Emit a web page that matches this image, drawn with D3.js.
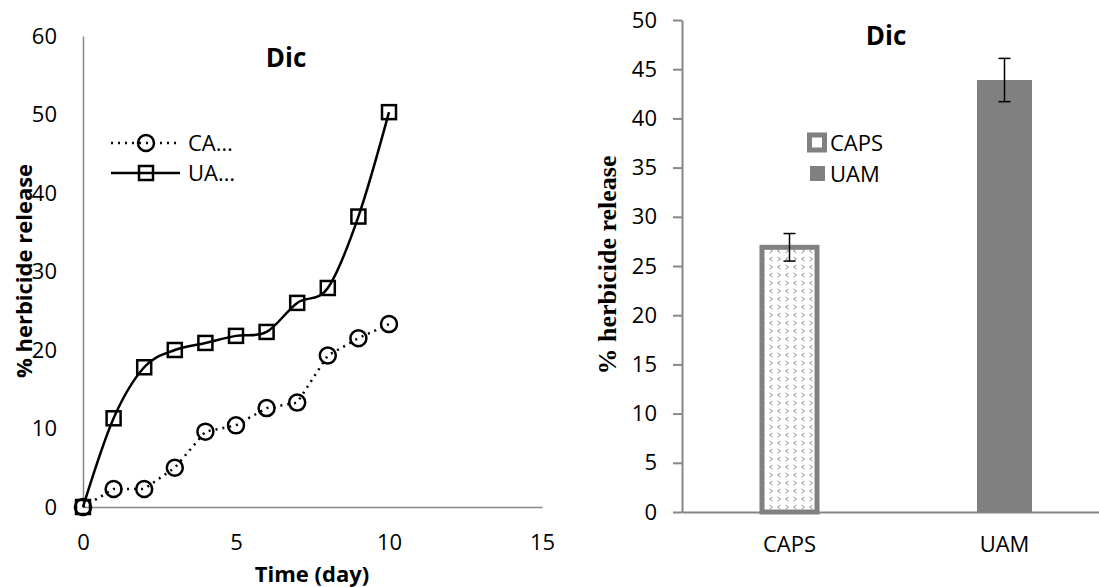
<!DOCTYPE html>
<html lang="en">
	<head>
		<meta charset="utf-8">
		<title>Dic - herbicide release</title>
		<script src="https://d3js.org/d3.v7.min.js"></script>
		<style type="text/css">
body {
    margin: 0;
    background: #fff;
}
text {
    font-family: "Open Sans", "Noto Sans", sans-serif;
    fill: #000;
}
.tick line, .domain {
    stroke: #868686;
}
		</style>
	</head>

	<body>
		<script type="text/javascript">

			// ---- data ----
			var days = [0, 1, 2, 3, 4, 5, 6, 7, 8, 9, 10];
			var capsRelease = [0, 2.3, 2.3, 5.0, 9.6, 10.4, 12.6, 13.3, 19.3, 21.5, 23.3];
			var uamRelease = [0, 11.3, 17.8, 20.0, 20.9, 21.8, 22.3, 26.0, 27.9, 37.0, 50.3];

			var barNames = ["CAPS", "UAM"];
			var barValues = [26.9, 43.9];
			var barErrors = [1.4, 2.2];

			var lineTicksX = [0, 5, 10, 15];
			var lineTicksY = [0, 10, 20, 30, 40, 50, 60];
			var barTicksY = [0, 5, 10, 15, 20, 25, 30, 35, 40, 45, 50];

			//Width and height
			var w = 1099;
			var h = 587;

			var svg = d3.select("body")
						.append("svg")
						.attr("width", w)
						.attr("height", h);

			// pattern for the CAPS bar (small chevrons)
			var pat = svg.append("defs").append("pattern")
				.attr("id", "chev")
				.attr("patternUnits", "userSpaceOnUse")
				.attr("width", 16)
				.attr("height", 16);
			pat.append("rect").attr("width", 16).attr("height", 16).attr("fill", "#fff");
			var chevs = [
				[3, 3, -1], [11, 3, 1], [3, 11, 1], [11, 11, -1]
			];
			pat.selectAll("path")
				.data(chevs)
				.enter().append("path")
				.attr("d", function(d) {
					var dx = 1.5 * d[2];
					return "M" + (d[0] - dx) + "," + (d[1] - 2) + "L" + (d[0] + dx) + "," + d[1] + "L" + (d[0] - dx) + "," + (d[1] + 2);
				})
				.attr("fill", "none")
				.attr("stroke", "#8a8a8a")
				.attr("stroke-width", 0.9);

			// =================== left chart: release over time ===================
			var x1 = d3.scaleLinear().domain([0, 15]).range([83, 542]);
			var y1 = d3.scaleLinear().domain([0, 60]).range([507, 36]);

			var g1 = svg.append("g");

			g1.append("g")
				.attr("transform", "translate(0,507)")
				.call(d3.axisBottom(x1).tickValues(lineTicksX).tickSize(0).tickPadding(27).tickSizeOuter(0))
				.call(function(g) {
					g.selectAll("text").attr("font-size", "22px").style("font-family", null);
					g.select(".domain").attr("stroke-width", 1.5);
				});

			g1.append("g")
				.attr("transform", "translate(83,0)")
				.call(d3.axisLeft(y1).tickValues(lineTicksY).tickSize(0).tickPadding(26).tickSizeOuter(0))
				.call(function(g) {
					g.selectAll("text").attr("font-size", "22px").style("font-family", null);
					g.select(".domain").attr("stroke-width", 1.5);
				});

			var capsPts = days.map(function(d, i) { return [d, capsRelease[i]]; });
			var uamPts = days.map(function(d, i) { return [d, uamRelease[i]]; });

			var straight = d3.line()
				.x(function(d) { return x1(d[0]); })
				.y(function(d) { return y1(d[1]); });
			var smooth = d3.line()
				.curve(d3.curveCardinal.tension(0))
				.x(function(d) { return x1(d[0]); })
				.y(function(d) { return y1(d[1]); });

			// CAPS dotted line
			g1.append("path")
				.datum(capsPts)
				.attr("d", straight)
				.attr("fill", "none")
				.attr("stroke", "#000")
				.attr("stroke-width", 2.5)
				.attr("stroke-dasharray", "2,5");

			// UAM smooth line
			g1.append("path")
				.datum(uamPts)
				.attr("d", smooth)
				.attr("fill", "none")
				.attr("stroke", "#000")
				.attr("stroke-width", 2.5);

			g1.selectAll(".capsDot")
				.data(capsPts)
				.enter().append("circle")
				.attr("class", "capsDot")
				.attr("cx", function(d) { return x1(d[0]); })
				.attr("cy", function(d) { return y1(d[1]); })
				.attr("r", 8)
				.attr("fill", "none")
				.attr("stroke", "#000")
				.attr("stroke-width", 2.5);

			g1.selectAll(".uamSq")
				.data(uamPts)
				.enter().append("rect")
				.attr("class", "uamSq")
				.attr("x", function(d) { return x1(d[0]) - 7; })
				.attr("y", function(d) { return y1(d[1]) - 7; })
				.attr("width", 14)
				.attr("height", 14)
				.attr("fill", "none")
				.attr("stroke", "#000")
				.attr("stroke-width", 2.5);

			// title + axis titles
			g1.append("text")
				.attr("x", 286).attr("y", 58).attr("dy", "0.35em")
				.attr("text-anchor", "middle")
				.attr("font-size", "26px").attr("font-weight", "bold")
				.text("Dic");

			g1.append("text")
				.attr("x", 312).attr("y", 574).attr("dy", "0.35em")
				.attr("text-anchor", "middle")
				.attr("font-size", "22px").attr("font-weight", "bold")
				.text("Time (day)");

			g1.append("text")
				.attr("transform", "translate(24,271) rotate(-90)")
				.attr("dy", "0.35em")
				.attr("text-anchor", "middle")
				.attr("font-size", "22px").attr("font-weight", "bold")
				.text("% herbicide release");

			// legend
			var leg1 = g1.append("g");
			leg1.append("line")
				.attr("x1", 111).attr("x2", 178).attr("y1", 143).attr("y2", 143)
				.attr("stroke", "#000").attr("stroke-width", 2.5).attr("stroke-dasharray", "2,5");
			leg1.append("circle")
				.attr("cx", 146).attr("cy", 143).attr("r", 8)
				.attr("fill", "none").attr("stroke", "#000").attr("stroke-width", 2.5);
			leg1.append("text")
				.attr("x", 188).attr("y", 143).attr("dy", "0.35em")
				.attr("font-size", "22px")
				.text("CA\u2026");
			leg1.append("line")
				.attr("x1", 111).attr("x2", 180).attr("y1", 173).attr("y2", 173)
				.attr("stroke", "#000").attr("stroke-width", 2.5);
			leg1.append("rect")
				.attr("x", 139).attr("y", 166).attr("width", 14).attr("height", 14)
				.attr("fill", "none").attr("stroke", "#000").attr("stroke-width", 2.5);
			leg1.append("text")
				.attr("x", 188).attr("y", 173).attr("dy", "0.35em")
				.attr("font-size", "22px")
				.text("UA\u2026");

			// =================== right chart: bars ===================
			var x2 = d3.scaleBand().domain(barNames).range([682, 1112]).paddingInner(0.744).paddingOuter(0.372);
			var y2 = d3.scaleLinear().domain([0, 50]).range([512, 20]);

			var g2 = svg.append("g");

			g2.append("g")
				.attr("transform", "translate(0,512)")
				.call(d3.axisBottom(x2).tickSize(0).tickPadding(24).tickSizeOuter(0))
				.call(function(g) {
					g.selectAll("text").attr("font-size", "22px").style("font-family", null);
					g.select(".domain").attr("stroke-width", 2);
				});

			var bars = barNames.map(function(n, i) { return { name: n, v: barValues[i], e: barErrors[i] }; });

			g2.selectAll(".bar")
				.data(bars)
				.enter().append("rect")
				.attr("class", "bar")
				.attr("x", function(d) { return x2(d.name); })
				.attr("y", function(d) { return y2(d.v); })
				.attr("width", x2.bandwidth())
				.attr("height", function(d) { return y2(0) - y2(d.v); })
				.attr("fill", function(d, i) { return i == 0 ? "url(#chev)" : "#808080"; })
				.attr("stroke", function(d, i) { return i == 0 ? "#808080" : "none"; })
				.attr("stroke-width", 5);

			g2.append("g")
				.attr("transform", "translate(682,0)")
				.call(d3.axisLeft(y2).tickValues(barTicksY).tickSize(9).tickPadding(16).tickSizeOuter(0))
				.call(function(g) {
					g.selectAll("text").attr("font-size", "22px").style("font-family", null);
					g.selectAll(".tick line").attr("stroke-width", 2);
					g.select(".domain").attr("stroke-width", 2);
				});

			// error bars
			var err = g2.selectAll(".err")
				.data(bars)
				.enter().append("g")
				.attr("class", "err")
				.attr("transform", function(d) { return "translate(" + (x2(d.name) + x2.bandwidth() / 2) + ",0)"; });
			err.append("line")
				.attr("y1", function(d) { return y2(d.v + d.e); })
				.attr("y2", function(d) { return y2(d.v - d.e); })
				.attr("stroke", "#000").attr("stroke-width", 1.5);
			err.append("line")
				.attr("x1", -6).attr("x2", 6)
				.attr("y1", function(d) { return y2(d.v + d.e); })
				.attr("y2", function(d) { return y2(d.v + d.e); })
				.attr("stroke", "#000").attr("stroke-width", 1.5);
			err.append("line")
				.attr("x1", -6).attr("x2", 6)
				.attr("y1", function(d) { return y2(d.v - d.e); })
				.attr("y2", function(d) { return y2(d.v - d.e); })
				.attr("stroke", "#000").attr("stroke-width", 1.5);

			g2.append("text")
				.attr("x", 886).attr("y", 36).attr("dy", "0.35em")
				.attr("text-anchor", "middle")
				.attr("font-size", "26px").attr("font-weight", "bold")
				.text("Dic");

			g2.append("text")
				.attr("transform", "translate(607,265) rotate(-90)")
				.attr("dy", "0.35em")
				.attr("text-anchor", "middle")
				.attr("font-size", "26px").attr("font-weight", "bold")
				.style("font-family", "'Liberation Serif', 'DejaVu Serif', serif")
				.text("% herbicide release");

			// legend
			var leg2 = g2.append("g");
			leg2.append("rect")
				.attr("x", 809.5).attr("y", 135).attr("width", 15).attr("height", 15)
				.attr("fill", "#fff").attr("stroke", "#808080").attr("stroke-width", 5);
			leg2.append("text")
				.attr("x", 830).attr("y", 143).attr("dy", "0.35em")
				.attr("font-size", "22px")
				.text(barNames[0]);
			leg2.append("rect")
				.attr("x", 810).attr("y", 166).attr("width", 15).attr("height", 15)
				.attr("fill", "#808080");
			leg2.append("text")
				.attr("x", 830).attr("y", 174).attr("dy", "0.35em")
				.attr("font-size", "22px")
				.text(barNames[1]);

		</script>
	</body>
</html>
